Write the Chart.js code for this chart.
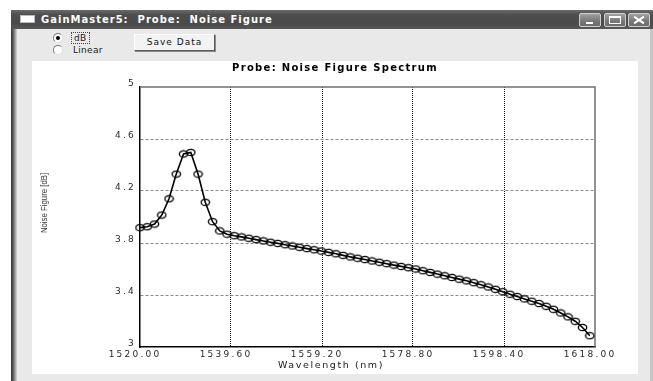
<!DOCTYPE html>
<html>
<head>
<meta charset="utf-8">
<script src="https://cdn.jsdelivr.net/npm/chart.js@4.4.0/dist/chart.umd.min.js"></script>
<style>
html,body{margin:0;padding:0;width:653px;height:381px;overflow:hidden;background:#fff;font-family:"DejaVu Sans",sans-serif;}
.abs{position:absolute;box-sizing:border-box;}
#win{left:11px;top:10px;width:642px;height:371px;background:#e9e9e9;}
#lborder{left:11px;top:10px;width:6px;height:371px;background:linear-gradient(to right,#333,#5a5a5a 35%,#a0a0a0 70%,#d8d8d8);}
#rborder{left:650px;top:10px;width:3px;height:371px;background:#c6c6c6;}
#titlebar{left:11px;top:10px;width:642px;height:19px;background:linear-gradient(#6a6a6a,#4e4e4e 25%,#4a4a4a 70%,#575757);}
#icon{left:20px;top:15px;width:15px;height:8px;background:#fff;border:1px solid #bbb;}
#ttext{left:41px;top:10px;height:19px;line-height:19px;color:#fff;font-weight:bold;font-size:10px;letter-spacing:1px;white-space:pre;}
.tbtn{top:13px;width:22px;height:14px;border:1px solid #cfcfcf;border-radius:2px;background:linear-gradient(#a0a0a0,#777 60%,#6c6c6c);}
.w{position:absolute;background:#fff;}
.radio{width:10px;height:10px;border-radius:50%;background:#fff;border:1px solid;border-color:#7a7a7a #e0e0e0 #e0e0e0 #7a7a7a;}
.lbl{font-size:9px;line-height:12px;color:#1a1a1a;letter-spacing:0.3px;}
#save{left:134px;top:34px;width:81px;height:17px;background:#f3f3f3;border:1px solid;border-color:#fff #5a5a5a #5a5a5a #fff;box-shadow:1px 1px 0 #8a8a8a;font-size:9px;line-height:15px;text-align:center;letter-spacing:1px;color:#111;}
#panel{left:32px;top:61px;width:606px;height:313px;background:#fff;}
</style>
</head>
<body>
<div id="win" class="abs"></div>
<div id="lborder" class="abs"></div>
<div id="rborder" class="abs"></div>
<div id="titlebar" class="abs"></div>
<div id="icon" class="abs"></div>
<div id="ttext" class="abs">GainMaster5:  Probe:  Noise Figure</div>
<div class="abs tbtn" style="left:579px;"><div class="w" style="left:6px;top:8px;width:7px;height:2px;"></div></div>
<div class="abs tbtn" style="left:604px;"><div class="abs" style="left:4px;top:2px;width:12px;height:8px;border:1px solid #fff;border-top-width:2px;"></div></div>
<div class="abs tbtn" style="left:628px;">
  <div class="w" style="left:4px;top:5px;width:12px;height:2px;transform:rotate(35deg);"></div>
  <div class="w" style="left:4px;top:5px;width:12px;height:2px;transform:rotate(-35deg);"></div>
</div>
<div class="abs radio" style="left:53px;top:33px;"><div class="abs" style="left:2px;top:2px;width:4px;height:4px;border-radius:50%;background:#000;"></div></div>
<div class="abs radio" style="left:53px;top:45px;"></div>
<div class="abs lbl" style="left:71px;top:32px;border:1px dotted #444;padding:0 2px;line-height:10px;">dB</div>
<div class="abs lbl" style="left:73px;top:44px;">Linear</div>
<div id="save" class="abs">Save Data</div>
<div id="panel" class="abs"><canvas id="c" width="606" height="313"></canvas></div>

<script>
// ---- data ----
const wavelengths = [
  1520.00, 1521.56, 1523.13, 1524.69, 1526.25, 1527.81, 1529.38, 1530.94, 1532.50, 1534.06,
  1535.63, 1537.19, 1538.75, 1540.31, 1541.88, 1543.44, 1545.00, 1546.56, 1548.13, 1549.69,
  1551.25, 1552.81, 1554.38, 1555.94, 1557.50, 1559.06, 1560.63, 1562.19, 1563.75, 1565.31,
  1566.88, 1568.44, 1570.00, 1571.56, 1573.13, 1574.69, 1576.25, 1577.81, 1579.38, 1580.94,
  1582.50, 1584.06, 1585.63, 1587.19, 1588.75, 1590.31, 1591.88, 1593.44, 1595.00, 1596.56,
  1598.13, 1599.69, 1601.25, 1602.81, 1604.38, 1605.94, 1607.50, 1609.06, 1610.63, 1612.19,
  1613.75, 1615.31, 1616.88
];
const noiseFigure = [
  3.918, 3.925, 3.946, 4.015, 4.140, 4.330, 4.485, 4.497, 4.330, 4.113,
  3.964, 3.893, 3.868, 3.856, 3.847, 3.837, 3.826, 3.816, 3.806, 3.797,
  3.787, 3.777, 3.767, 3.757, 3.748, 3.738, 3.728, 3.717, 3.705, 3.693,
  3.683, 3.673, 3.662, 3.652, 3.641, 3.630, 3.620, 3.610, 3.600, 3.587,
  3.574, 3.561, 3.548, 3.535, 3.522, 3.509, 3.495, 3.479, 3.462, 3.444,
  3.425, 3.406, 3.388, 3.370, 3.352, 3.335, 3.313, 3.290, 3.262, 3.232,
  3.198, 3.150, 3.087
];
const xTicks = [1520.00, 1539.60, 1559.20, 1578.80, 1598.40, 1618.00];
const yTicks = [3, 3.4, 3.8, 4.2, 4.6, 5];
const yTickLabels = ['3', '3.4', '3.8', '4.2', '4.6', '5'];
const chartTitle = 'Probe: Noise Figure Spectrum';
const xTitle = 'Wavelength (nm)';
const yTitle = 'Noise Figure [dB]';

// ---- styling helpers ----
function makeRing() {
  const c = document.createElement('canvas');
  c.width = 11; c.height = 9;
  const g = c.getContext('2d');
  g.strokeStyle = '#000';
  g.lineWidth = 1.3;
  g.beginPath();
  g.ellipse(5.5, 4.5, 4.2, 3.2, 0, 0, Math.PI * 2);
  g.stroke();
  return c;
}

const spacingPlugin = {
  id: 'spacing',
  afterLayout(chart) {
    Object.values(chart.scales).forEach(s => {
      if (s._lsPatched) return;
      const orig = s.drawLabels;
      s.drawLabels = function (area) {
        const c = this.ctx; c.save(); c.letterSpacing = '2.2px';
        orig.call(this, area); c.restore();
      };
      s._lsPatched = true;
    });
    const t = chart.titleBlock;
    if (t && !t._lsPatched) {
      const o = t.draw;
      t.draw = function () {
        const c = this.ctx; c.save(); c.letterSpacing = '1.3px';
        o.apply(this, arguments); c.restore();
      };
      t._lsPatched = true;
    }
  }
};

const framePlugin = {
  id: 'frame',
  beforeDatasetsDraw(chart) {
    const { ctx, chartArea: a } = chart;
    ctx.save();
    ctx.strokeStyle = '#707070';
    ctx.lineWidth = 1.5;
    ctx.beginPath();
    ctx.moveTo(a.left, a.top);
    ctx.lineTo(a.right, a.top);
    ctx.lineTo(a.right, a.bottom);
    ctx.stroke();
    ctx.restore();
  }
};

const axisTitlePlugin = {
  id: 'axisTitles',
  afterDraw(chart) {
    const ctx = chart.ctx;
    ctx.save();
    ctx.fillStyle = '#1a1a1a';
    ctx.textAlign = 'center';
    ctx.textBaseline = 'middle';
    ctx.font = '9.5px "DejaVu Sans"';
    ctx.letterSpacing = '1.6px';
    ctx.fillText(xTitle, 299, 305);
    ctx.restore();
    ctx.save();
    ctx.fillStyle = '#333';
    ctx.textAlign = 'center';
    ctx.textBaseline = 'middle';
    ctx.font = '9.5px "Liberation Sans", Arial, sans-serif';
    ctx.translate(12, 142);
    ctx.rotate(-Math.PI / 2);
    ctx.scale(0.82, 1);
    ctx.fillText(yTitle, 0, 0);
    ctx.restore();
  }
};

const tickFont = { family: 'DejaVu Sans', size: 9 };

new Chart(document.getElementById('c'), {
  type: 'line',
  data: {
    datasets: [{
      data: wavelengths.map((w, i) => ({ x: w, y: noiseFigure[i] })),
      borderColor: '#000',
      borderWidth: 1.6,
      pointStyle: makeRing(),
      pointRadius: 4,
      tension: 0,
      fill: false,
      clip: false
    }]
  },
  options: {
    responsive: false,
    animation: false,
    devicePixelRatio: 1,
    layout: { padding: 0 },
    plugins: {
      legend: { display: false },
      tooltip: { enabled: false },
      title: {
        display: true,
        text: chartTitle,
        color: '#000',
        font: { family: 'DejaVu Sans', size: 10, weight: 'bold' },
        padding: { top: 1, bottom: 13 }
      }
    },
    scales: {
      x: {
        type: 'linear',
        min: 1520,
        max: 1618,
        afterBuildTicks: s => { s.ticks = xTicks.map(v => ({ value: v })); },
        afterFit: s => { s.height = 27; },
        ticks: {
          callback: v => Number(v).toFixed(2),
          font: tickFont,
          color: '#2a2a2a',
          maxRotation: 0,
          autoSkip: false,
          padding: 2,
          labelOffset: -5
        },
        grid: {
          drawTicks: false,
          lineWidth: 1,
          color: c => (c.index === 0 || c.index === xTicks.length - 1) ? 'rgba(0,0,0,0)' : '#111'
        },
        border: { display: true, color: '#000', width: 1.5, dash: [1, 1] }
      },
      y: {
        min: 3,
        max: 5,
        afterBuildTicks: s => { s.ticks = yTicks.map(v => ({ value: v })); },
        afterFit: s => { s.width = 108; },
        ticks: {
          callback: (v, i) => yTickLabels[i],
          font: tickFont,
          color: '#2a2a2a',
          padding: 4,
          labelOffset: -3.5
        },
        grid: {
          drawTicks: false,
          lineWidth: 1,
          color: c => (c.index === 0 || c.index === yTicks.length - 1) ? 'rgba(0,0,0,0)' : '#8a8a8a'
        },
        border: { display: true, color: '#000', width: 1.5, dash: [3, 2] }
      },
      spacer: {
        type: 'linear',
        position: 'right',
        display: true,
        afterFit: s => { s.width = 43; },
        ticks: { display: false },
        grid: { display: false, drawTicks: false },
        border: { display: false }
      }
    }
  },
  plugins: [spacingPlugin, framePlugin, axisTitlePlugin]
});
</script>
</body>
</html>
